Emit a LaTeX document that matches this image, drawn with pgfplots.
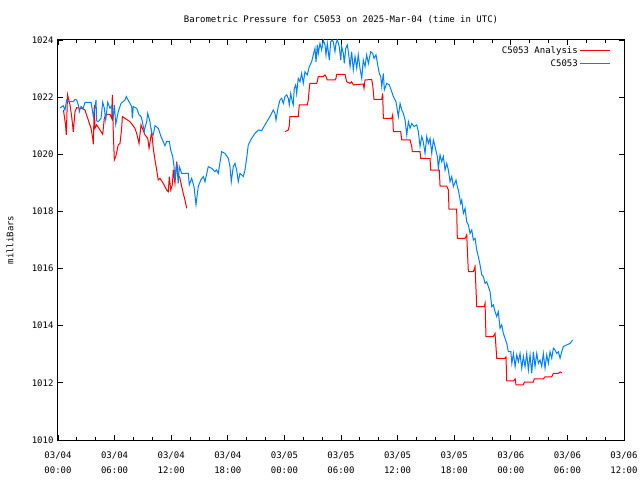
\documentclass[border=0pt]{standalone}
\usepackage{pgfplots}
\pgfplotsset{compat=1.18}
\usepackage{fontspec}
\setmainfont{DejaVu Sans Mono}
\definecolor{gpred}{RGB}{255,0,0}
\definecolor{gpblue}{RGB}{0,128,255}
\begin{document}
\begin{tikzpicture}[x=1pt,y=1pt]
\useasboundingbox (-58,-40) rectangle (582,440);
\begin{axis}[
  at={(0,0)}, anchor=south west,
  scale only axis, width=566pt, height=400pt,
  xmin=0, xmax=60, ymin=1010, ymax=1024,
  xtick={0,6,...,60},
  xticklabels={{03/04\\00:00},{03/04\\06:00},{03/04\\12:00},{03/04\\18:00},{03/05\\00:00},{03/05\\06:00},{03/05\\12:00},{03/05\\18:00},{03/06\\00:00},{03/06\\06:00},{03/06\\12:00}},
  minor x tick num=2,
  ytick={1010,1012,...,1024},
  tick align=inside,
  major tick length=5pt, minor tick length=3pt,
  tick style={black, line width=0.8pt},
  axis line style={black, line width=1pt},
  /pgf/number format/assume math mode=true,
  yticklabel style={/pgf/number format/1000 sep={}, font=\fontsize{9}{10}\selectfont, xshift=-1pt},
  xticklabel style={align=center, font=\fontsize{9}{15}\selectfont, yshift=-8pt},
  title={Barometric Pressure for C5053 on 2025-Mar-04 (time in UTC)},
  title style={at={(0.5,1)}, anchor=center, yshift=14pt, font=\fontsize{9}{10}\selectfont},
  ylabel={milliBars},
  every axis y label/.style={at={(axis description cs:-0.0848,0.5)}, rotate=90, anchor=center, font=\fontsize{9}{10}\selectfont},
  legend style={at={(1,1)}, anchor=north east, xshift=-12pt, yshift=-3pt, draw=none, fill=none, font=\fontsize{9}{10}\selectfont, row sep=1pt, inner sep=1pt},
  legend cell align=right,
  legend plot pos=right,
  legend image code/.code={\draw[#1] (0pt,0pt) -- (30pt,0pt);},
]
\addplot[gpred, line width=1pt] coordinates {
(0.58,1021.55) (0.80,1021.03) (0.88,1020.68) (1.01,1022.09) (1.27,1021.73) (1.45,1021.32) (1.62,1020.79) (1.80,1021.49) (1.98,1021.63) (2.51,1021.61) (2.86,1021.55) (3.21,1021.20) (3.50,1020.91) (3.68,1020.56) (3.74,1020.35) (3.85,1021.73) (3.92,1020.91) (4.10,1021.03) (4.45,1020.85) (4.74,1020.70) (4.91,1021.26) (5.09,1021.40) (5.51,1021.40) (5.69,1021.26) (5.76,1022.08) (5.86,1020.79) (5.97,1019.80) (6.12,1019.92) (6.39,1020.33) (6.57,1020.38) (6.75,1020.91) (6.82,1021.32) (7.10,1021.26) (7.63,1021.14) (7.88,1021.03) (8.16,1020.91) (8.34,1020.73) (8.59,1020.38) (8.80,1021.03) (8.94,1020.91) (9.22,1020.68) (9.51,1020.56) (9.65,1020.21) (9.93,1020.79) (10.10,1020.21) (10.28,1019.80) (10.46,1019.45) (10.63,1019.10) (10.81,1019.16) (11.16,1018.98) (11.52,1018.75) (11.69,1018.69) (11.80,1019.22) (11.95,1018.75) (12.12,1018.93) (12.22,1019.45) (12.40,1018.98) (12.58,1019.74) (12.75,1019.28) (12.93,1019.16) (13.11,1018.87) (13.28,1018.63) (13.46,1018.40) (13.64,1018.11)
};
\addlegendentry{C5053 Analysis}
\addplot[gpred, line width=1pt, forget plot] coordinates {
(24.06,1020.79) (24.41,1020.85) (24.52,1021.00) (24.59,1021.32) (25.47,1021.32) (25.58,1021.73) (26.43,1021.73) (26.53,1021.90) (26.64,1022.31) (26.71,1022.48) (27.42,1022.48) (27.49,1022.54) (27.59,1022.72) (28.12,1022.72) (28.30,1022.78) (28.41,1022.72) (28.55,1022.60) (29.36,1022.60) (29.47,1022.66) (29.54,1022.80) (30.42,1022.80) (30.60,1022.54) (30.96,1022.48) (31.13,1022.54) (31.30,1022.43) (32.36,1022.46) (32.44,1022.31) (32.55,1022.60) (33.25,1022.62) (33.36,1022.43) (33.50,1021.92) (34.32,1021.92) (34.42,1022.13) (34.49,1021.26) (35.38,1021.26) (35.48,1021.38) (35.55,1020.79) (36.33,1020.79) (36.44,1020.50) (37.32,1020.50) (37.50,1020.27) (37.56,1020.09) (38.38,1020.09) (38.45,1019.86) (39.44,1019.86) (39.51,1019.45) (40.42,1019.45) (40.50,1018.89) (41.21,1018.89) (41.38,1018.75) (41.45,1018.08) (42.26,1018.08) (42.33,1017.06) (43.15,1017.06) (43.33,1017.18) (43.39,1016.71) (43.50,1015.89) (44.03,1015.89) (44.21,1016.07) (44.39,1014.67) (45.19,1014.67) (45.27,1014.78) (45.37,1013.62) (46.15,1013.62) (46.33,1013.73) (46.51,1012.86) (47.39,1012.86) (47.49,1012.91) (47.57,1012.07) (48.28,1012.07) (48.46,1012.14) (48.56,1011.93) (49.33,1011.93) (49.44,1012.03) (50.39,1012.03) (50.49,1012.14) (51.45,1012.14) (51.63,1012.21) (52.34,1012.21) (52.51,1012.33) (53.04,1012.33) (53.22,1012.38) (53.40,1012.36)
};
\addplot[gpblue, line width=1pt] coordinates {
(0.21,1021.62) (0.56,1021.70) (0.74,1021.55) (0.92,1021.90) (1.09,1021.84) (1.62,1021.84) (1.80,1021.92) (1.98,1021.90) (2.15,1021.73) (2.26,1021.49) (2.44,1021.67) (2.68,1021.61) (2.86,1021.82) (3.50,1021.82) (3.64,1021.55) (3.74,1021.32) (3.92,1021.61) (4.03,1021.90) (4.10,1021.17) (4.27,1021.14) (4.56,1021.26) (4.74,1021.82) (4.91,1021.61) (5.06,1021.20) (5.27,1021.82) (5.51,1021.61) (5.69,1021.70) (5.86,1021.32) (5.97,1021.73) (6.12,1021.05) (6.39,1021.49) (6.68,1021.78) (7.10,1021.90) (7.24,1022.02) (7.53,1021.84) (7.81,1021.67) (7.88,1021.26) (7.98,1021.67) (8.34,1021.61) (8.59,1021.38) (8.80,1021.32) (8.94,1021.14) (9.15,1020.79) (9.22,1020.93) (9.40,1021.14) (9.51,1021.43) (9.75,1021.14) (9.93,1020.73) (10.10,1020.68) (10.28,1021.00) (10.63,1020.91) (10.92,1020.62) (11.34,1020.30) (11.52,1020.45) (11.80,1020.45) (11.95,1020.15) (12.16,1019.92) (12.30,1019.57) (12.40,1019.10) (12.58,1019.68) (12.75,1018.98) (12.86,1019.57) (13.11,1019.33) (13.81,1019.33) (13.92,1018.93) (14.17,1019.16) (14.42,1018.87) (14.63,1018.23) (14.87,1018.87) (15.13,1019.10) (15.40,1019.22) (15.58,1019.04) (15.93,1019.57) (16.29,1019.51) (16.64,1019.39) (16.82,1019.45) (16.99,1019.33) (17.35,1020.09) (17.70,1020.03) (18.05,1019.86) (18.23,1019.57) (18.37,1019.04) (18.58,1019.57) (18.76,1019.68) (18.94,1019.45) (19.11,1019.04) (19.29,1019.33) (19.47,1019.28) (19.64,1019.22) (19.82,1019.45) (20.00,1019.86) (20.17,1020.33) (20.53,1020.56) (20.88,1020.73) (21.23,1020.85) (21.59,1020.83) (21.94,1021.03) (22.47,1021.32) (22.82,1021.55) (23.00,1021.43) (23.11,1021.20) (23.35,1021.67) (23.53,1021.90) (23.71,1021.96) (23.88,1021.78) (24.06,1022.02) (24.24,1022.08) (24.41,1021.96) (24.52,1021.73) (24.67,1022.13) (24.84,1021.84) (24.94,1021.73) (25.05,1022.31) (25.20,1022.43) (25.30,1022.13) (25.47,1022.66) (25.65,1022.54) (25.83,1022.83) (26.00,1022.48) (26.18,1022.89) (26.43,1022.78) (26.64,1023.07) (26.89,1023.24) (27.06,1023.48) (27.24,1023.71) (27.35,1023.24) (27.49,1023.83) (27.59,1023.53) (27.77,1023.88) (27.95,1023.65) (28.12,1024.00) (28.30,1023.83) (28.41,1023.48) (28.55,1023.88) (28.76,1023.30) (28.91,1023.94) (29.05,1024.00) (29.18,1023.94) (29.36,1023.59) (29.47,1023.88) (29.61,1024.00) (29.82,1023.77) (29.97,1023.30) (30.07,1023.77) (30.25,1023.53) (30.35,1023.18) (30.50,1023.71) (30.67,1023.83) (30.82,1023.48) (30.96,1023.07) (31.13,1023.59) (31.30,1022.95) (31.49,1023.42) (31.67,1023.01) (31.83,1023.48) (32.01,1023.01) (32.20,1022.66) (32.36,1023.30) (32.55,1023.07) (32.72,1023.48) (32.90,1023.18) (33.15,1023.59) (33.36,1023.53) (33.50,1023.36) (33.71,1023.48) (33.89,1023.13) (34.06,1022.83) (34.21,1022.72) (34.32,1022.37) (34.49,1022.83) (34.59,1022.25) (34.85,1022.48) (35.12,1022.43) (35.38,1022.19) (35.55,1022.02) (35.83,1021.84) (36.08,1021.32) (36.26,1021.78) (36.44,1021.55) (36.61,1021.43) (36.79,1021.20) (36.97,1020.68) (37.14,1021.14) (37.32,1020.91) (37.50,1021.08) (37.74,1020.97) (38.03,1021.03) (38.20,1020.79) (38.38,1020.27) (38.56,1020.62) (38.72,1020.44) (38.91,1020.03) (39.09,1020.62) (39.26,1020.38) (39.44,1020.56) (39.62,1020.03) (39.79,1020.50) (39.97,1020.27) (40.21,1019.92) (40.32,1019.51) (40.50,1019.98) (40.68,1019.74) (40.85,1019.92) (41.03,1019.45) (41.21,1019.68) (41.38,1019.45) (41.56,1019.04) (41.74,1019.22) (41.91,1018.87) (42.19,1019.10) (42.37,1018.81) (42.44,1018.75) (42.69,1018.28) (42.80,1018.40) (42.97,1017.93) (43.15,1018.11) (43.33,1017.64) (43.50,1017.53) (43.68,1017.23) (43.86,1017.35) (44.03,1017.00) (44.21,1017.06) (44.39,1016.65) (44.56,1016.42) (44.74,1016.13) (44.92,1015.78) (45.09,1015.72) (45.27,1015.48) (45.45,1015.54) (45.62,1015.37) (45.80,1015.19) (45.98,1014.67) (46.15,1014.73) (46.33,1014.49) (46.51,1014.32) (46.68,1014.49) (46.86,1013.91) (47.04,1014.03) (47.21,1013.73) (47.39,1013.56) (47.57,1013.38) (47.74,1013.09) (48.00,1013.09) (48.11,1012.68) (48.28,1013.03) (48.46,1012.57) (48.63,1012.98) (48.80,1012.74) (48.98,1013.03) (49.16,1012.51) (49.33,1012.92) (49.51,1012.57) (49.69,1013.03) (49.86,1012.45) (50.04,1012.98) (50.22,1012.33) (50.39,1013.09) (50.57,1012.57) (50.75,1013.03) (50.92,1012.68) (51.10,1012.80) (51.28,1012.57) (51.45,1013.03) (51.63,1012.51) (51.81,1012.98) (51.98,1012.68) (52.16,1013.09) (52.34,1012.86) (52.51,1013.21) (52.69,1013.15) (52.87,1013.03) (53.04,1013.09) (53.22,1012.86) (53.40,1013.09) (53.57,1013.27) (53.93,1013.33) (54.28,1013.38) (54.56,1013.50)
};
\addlegendentry{C5053}
\end{axis}
\end{tikzpicture}
\end{document}
